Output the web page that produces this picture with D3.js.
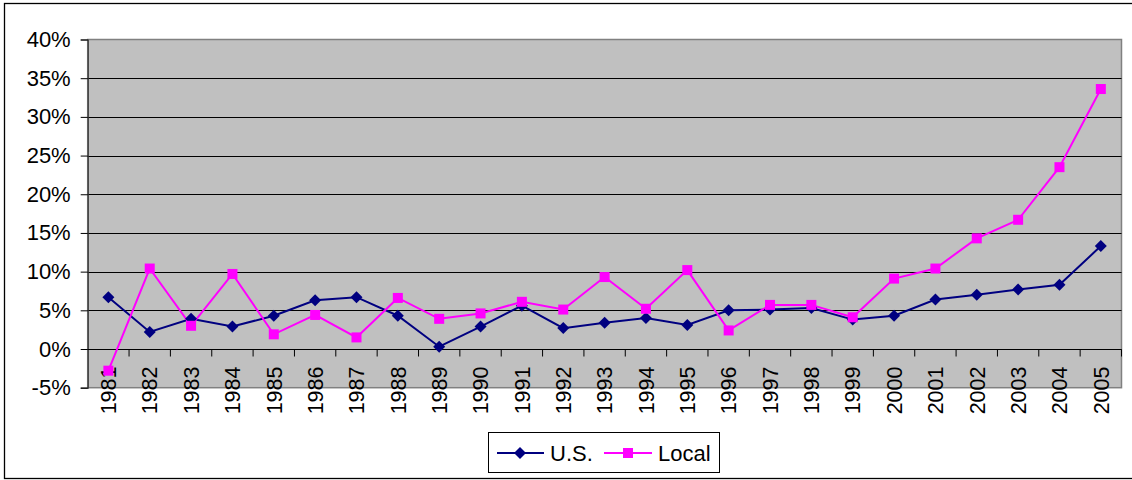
<!DOCTYPE html>
<html>
<head>
<meta charset="utf-8">
<script src="https://cdn.jsdelivr.net/npm/d3@7"></script>
<style>
  html, body { margin: 0; padding: 0; background: #fff; }
  svg { display: block; font-family: "Liberation Sans", Arial, sans-serif; }
</style>
</head>
<body>
<svg id="chart" width="1132" height="480"></svg>
<script>
const years = ["1981","1982","1983","1984","1985","1986","1987","1988","1989","1990","1991","1992","1993","1994","1995","1996","1997","1998","1999","2000","2001","2002","2003","2004","2005"];
const usValues = [6.7, 2.2, 3.9, 2.9, 4.3, 6.3, 6.7, 4.3, 0.3, 2.9, 5.6, 2.7, 3.4, 4.0, 3.1, 5.0, 5.1, 5.3, 3.8, 4.3, 6.4, 7.0, 7.7, 8.3, 13.3];
const localValues = [-2.8, 10.4, 3.0, 9.7, 1.9, 4.4, 1.5, 6.6, 3.9, 4.6, 6.1, 5.1, 9.3, 5.2, 10.2, 2.4, 5.7, 5.7, 4.1, 9.1, 10.4, 14.3, 16.7, 23.5, 33.6];
const yTicks = [-5, 0, 5, 10, 15, 20, 25, 30, 35, 40];
const seriesNames = ["U.S.", "Local"];

(function () {
const svg = d3.select("#chart");
const pLeft = 87.7, pRight = 1121.5, pTop = 39.5, pBottom = 387.7;

const x = d3.scaleBand().domain(years).range([pLeft, pRight]).paddingInner(0).paddingOuter(0);
const y = d3.scaleLinear().domain([-5, 40]).range([pBottom, pTop]);

// outer chart border
svg.append("rect").attr("x", 4.5).attr("y", 3.5).attr("width", 1140).attr("height", 475)
  .attr("fill", "#fff").attr("stroke", "#000").attr("stroke-width", 1.3);

// plot area
svg.append("rect").attr("x", pLeft).attr("y", pTop).attr("width", pRight - pLeft).attr("height", pBottom - pTop)
  .attr("fill", "#C0C0C0").attr("stroke", "#808080").attr("stroke-width", 1.5);

// gridlines
svg.append("g").selectAll("line").data(yTicks.filter(d => d > -5 && d < 40)).join("line")
  .attr("x1", pLeft).attr("x2", pRight)
  .attr("y1", d => Math.round(y(d)) + 0.5).attr("y2", d => Math.round(y(d)) + 0.5)
  .attr("stroke", "#000").attr("stroke-width", 1);

// y axis
const yAxis = d3.axisLeft(y).tickValues(yTicks).tickSize(7).tickPadding(10).tickFormat(d => d + "%");
const gy = svg.append("g").attr("transform", `translate(${pLeft},0)`).call(yAxis);
gy.select(".domain").attr("stroke", "#333").attr("stroke-width", 1.2);
gy.selectAll(".tick line").attr("stroke", "#000");
gy.selectAll(".tick text").attr("font-size", 22).attr("fill", "#000")
  .attr("font-family", "Liberation Sans, Arial, sans-serif");

// x axis at 0%
const y0 = Math.round(y(0)) + 0.5;
const gx = svg.append("g");
gx.append("line").attr("x1", pLeft).attr("x2", pRight).attr("y1", y0).attr("y2", y0).attr("stroke", "#000");
gx.selectAll("line.tk").data(years).join("line").attr("class", "tk")
  .attr("x1", d => x(d) + x.bandwidth()).attr("x2", d => x(d) + x.bandwidth())
  .attr("y1", y0).attr("y2", y0 + 7).attr("stroke", "#000");
gx.selectAll("text").data(years).join("text")
  .attr("transform", d => `translate(${x(d) + x.bandwidth() / 2},${y0 + 17}) rotate(-90)`)
  .attr("text-anchor", "end").attr("dy", "0.36em")
  .attr("font-size", 21.5).attr("fill", "#000").text(d => d);

const colors = ["#000080", "#FF00FF"];
const data = [usValues, localValues];
const cx = (i) => x(years[i]) + x.bandwidth() / 2;
const line = d3.line().x((d, i) => cx(i)).y(d => y(d));

data.forEach((vals, s) => {
  svg.append("path").datum(vals).attr("d", line).attr("fill", "none")
    .attr("stroke", colors[s]).attr("stroke-width", 2);
});

function diamond(g, px, py, r) {
  g.append("path").attr("d", `M${px},${py - r}L${px + r},${py}L${px},${py + r}L${px - r},${py}Z`)
    .attr("fill", colors[0]);
}
function square(g, px, py, h) {
  g.append("rect").attr("x", px - h).attr("y", py - h).attr("width", 2 * h).attr("height", 2 * h)
    .attr("fill", colors[1]);
}
const mk = svg.append("g");
usValues.forEach((v, i) => diamond(mk, cx(i), y(v), 6));
localValues.forEach((v, i) => square(mk, cx(i), y(v), 5));

// legend
const lg = svg.append("g");
lg.append("rect").attr("x", 488.5).attr("y", 432.5).attr("width", 231).attr("height", 40)
  .attr("fill", "#fff").attr("stroke", "#000").attr("stroke-width", 1);
const ly = 453;
lg.append("line").attr("x1", 497).attr("x2", 544).attr("y1", ly).attr("y2", ly).attr("stroke", colors[0]).attr("stroke-width", 2);
diamond(lg, 520, ly, 6);
lg.append("text").attr("x", 550).attr("y", ly).attr("dy", "0.36em").attr("font-size", 22).text(seriesNames[0]);
lg.append("line").attr("x1", 604).attr("x2", 652).attr("y1", ly).attr("y2", ly).attr("stroke", colors[1]).attr("stroke-width", 2);
square(lg, 628, ly, 5);
lg.append("text").attr("x", 658).attr("y", ly).attr("dy", "0.36em").attr("font-size", 22).text(seriesNames[1]);
})();
</script>
</body>
</html>
